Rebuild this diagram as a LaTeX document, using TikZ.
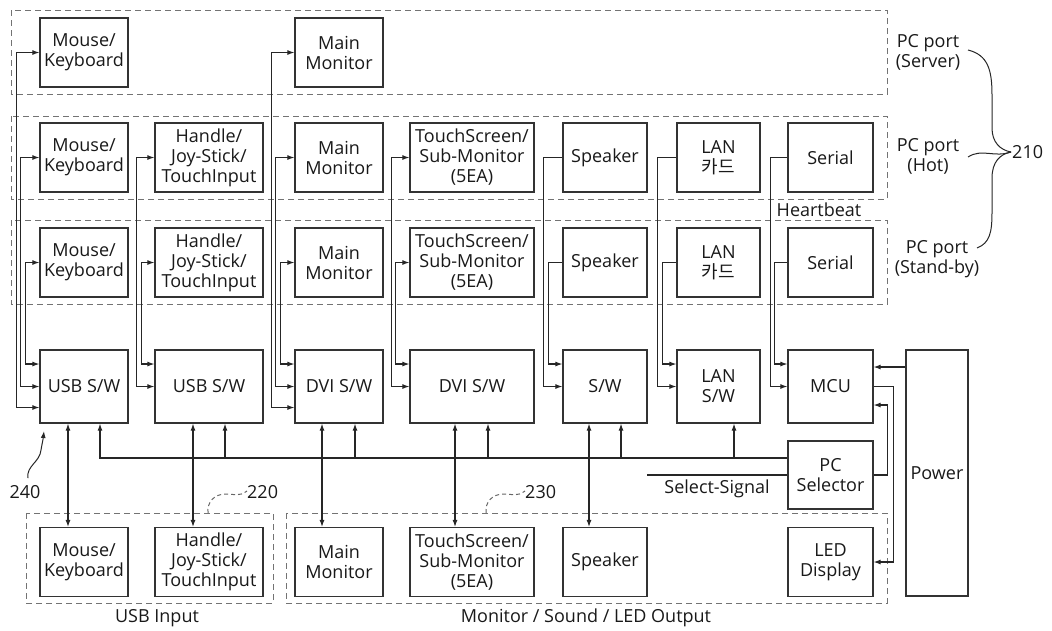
\documentclass[tikz,border=0pt]{standalone}
\usepackage{fontspec}
\setmainfont{Open Sans}
\newfontfamily\kr{Noto Sans CJK KR}
\usetikzlibrary{arrows.meta,calc}
\begin{document}
\begin{tikzpicture}[x=1pt,y=-1pt,
  font=\fontsize{18}{20}\selectfont,
  blk/.style={draw=black!80,line width=1.2pt,fill=white,align=center,inner sep=0pt,text=black!90},
  cA/.style={minimum width=88pt},
  cB/.style={minimum width=108pt},
  cD/.style={minimum width=124pt},
  cE/.style={minimum width=84pt},
  rh/.style={minimum height=69pt},
  sh/.style={minimum height=73pt},
  grp/.style={draw=black!55,line width=1pt,dash pattern=on 6pt off 4pt},
  wire/.style={draw=black!85,line width=1.1pt},
  arr/.style={wire,-{Latex[length=7pt,width=5pt]}},
  dbl/.style={wire,{Latex[length=7pt,width=5pt]}-{Latex[length=7pt,width=5pt]}},
  lbl/.style={align=center,inner sep=0pt,text=black!90},
  lead/.style={draw=black!60,line width=1pt,dash pattern=on 4pt off 3pt}]
\useasboundingbox (0,0) rectangle (1052,630);

% dashed groups
\draw[grp] (11,10) rectangle (887,94);
\draw[grp] (11,116) rectangle (887,199);
\draw[grp] (11,220) rectangle (887,304);
\draw[grp] (26,513) rectangle (273,603);
\draw[grp] (286,513) rectangle (887,603);

% server row
\node[blk,cA,rh] (sMK) at (84,52.5) {Mouse/\\Keyboard};
\node[blk,cA,rh] (sMM) at (339,52.5) {Main\\Monitor};
% hot row
\node[blk,cA,rh] (hMK) at (84,157.5) {Mouse/\\Keyboard};
\node[blk,cB,rh] (hHJ) at (209,157.5) {Handle/\\Joy-Stick/\\TouchInput};
\node[blk,cA,rh] (hMM) at (339,157.5) {Main\\Monitor};
\node[blk,cD,rh] (hTS) at (472,157.5) {TouchScreen/\\Sub-Monitor\\(5EA)};
\node[blk,cE,rh] (hSP) at (605,157.5) {Speaker};
\node[blk,cE,rh,minimum width=83pt] (hLAN) at (718.5,157.5) {LAN\\{\kr 카드}};
\node[blk,cE,rh,minimum width=85pt] (hSER) at (830.5,157.5) {Serial};
% stand-by row
\node[blk,cA,rh] (tMK) at (84,262.5) {Mouse/\\Keyboard};
\node[blk,cB,rh] (tHJ) at (209,262.5) {Handle/\\Joy-Stick/\\TouchInput};
\node[blk,cA,rh] (tMM) at (339,262.5) {Main\\Monitor};
\node[blk,cD,rh] (tTS) at (472,262.5) {TouchScreen/\\Sub-Monitor\\(5EA)};
\node[blk,cE,rh] (tSP) at (605,262.5) {Speaker};
\node[blk,cE,rh,minimum width=83pt] (tLAN) at (718.5,262.5) {LAN\\{\kr 카드}};
\node[blk,cE,rh,minimum width=85pt] (tSER) at (830.5,262.5) {Serial};
% switch row
\node[blk,cA,sh] (usb1) at (84,386.5) {USB S/W};
\node[blk,cB,sh] (usb2) at (209,386.5) {USB S/W};
\node[blk,cA,sh] (dvi1) at (339,386.5) {DVI S/W};
\node[blk,cD,sh] (dvi2) at (472,386.5) {DVI S/W};
\node[blk,cE,sh] (sw) at (605,386.5) {S/W};
\node[blk,cE,sh,minimum width=83pt] (lansw) at (718.5,386.5) {LAN\\S/W};
\node[blk,cE,sh,minimum width=85pt] (mcu) at (830.5,386.5) {MCU};
\node[blk,cE,minimum width=85pt,minimum height=68pt] (pcsel) at (830.5,475) {PC\\Selector};
\node[blk,minimum width=62pt,minimum height=246pt] (power) at (937,473) {Power};
% bottom row
\node[blk,cA,rh] (bMK) at (84,562) {Mouse/\\Keyboard};
\node[blk,cB,rh] (bHJ) at (209,562) {Handle/\\Joy-Stick/\\TouchInput};
\node[blk,cA,rh] (bMM) at (339,562) {Main\\Monitor};
\node[blk,cD,rh] (bTS) at (472,562) {TouchScreen/\\Sub-Monitor\\(5EA)};
\node[blk,cE,rh] (bSP) at (605,562) {Speaker};
\node[blk,cE,rh,minimum width=85pt] (led) at (830.5,562) {LED\\Display};

% column connectors: USB / DVI
\draw[dbl] (sMK.west) -- ++(-23,0) |- ($(usb1.west)+(0,21)$);
\draw[dbl] (hMK.west) -- ++(-18.5,0) |- (usb1.west);
\draw[dbl] (tMK.west) -- ++(-13.5,0) |- ($(usb1.west)+(0,-22.5)$);
\draw[dbl] (hHJ.west) -- ++(-18,0) |- (usb2.west);
\draw[dbl] (tHJ.west) -- ++(-13,0) |- ($(usb2.west)+(0,-22.5)$);
\draw[dbl] (sMM.west) -- ++(-23,0) |- ($(dvi1.west)+(0,21)$);
\draw[dbl] (hMM.west) -- ++(-18.5,0) |- (dvi1.west);
\draw[dbl] (tMM.west) -- ++(-14,0) |- ($(dvi1.west)+(0,-22.5)$);
\draw[dbl] (hTS.west) -- ++(-18,0) |- (dvi2.west);
\draw[dbl] (tTS.west) -- ++(-14,0) |- ($(dvi2.west)+(0,-22.5)$);
% speaker / LAN / serial
\draw[arr] (hSP.west) -- ++(-19,0) |- (sw.west);
\draw[arr] (tSP.west) -- ++(-14,0) |- ($(sw.west)+(0,-22.5)$);
\draw[arr] (hLAN.west) -- ++(-19,0) |- (lansw.west);
\draw[arr] (tLAN.west) -- ++(-14,0) |- ($(lansw.west)+(0,-22.5)$);
\draw[arr] (hSER.west) -- ++(-17,0) |- (mcu.west);
\draw[arr] (tSER.west) -- ++(-13,0) |- ($(mcu.west)+(0,-22.5)$);

% bottom bidirectional
\draw[dbl] ($(usb1.south)+(-16,0)$) -- ($(bMK.north)+(-16,0)$);
\draw[dbl] ($(usb2.south)+(-16,0)$) -- ($(bHJ.north)+(-16,0)$);
\draw[dbl] ($(dvi1.south)+(-17,0)$) -- ($(bMM.north)+(-17,0)$);
\draw[dbl] ($(dvi2.south)+(-17,0)$) -- ($(bTS.north)+(-17,0)$);
\draw[dbl] ($(sw.south)+(-16,0)$) -- ($(bSP.north)+(-16,0)$);

% select bus
\draw[arr] ($(pcsel.west)+(0,-17)$) -| ($(usb1.south)+(16,0)$);
\draw[arr] ($(usb2.south)+(16,35)$) -- ($(usb2.south)+(16,0)$);
\draw[arr] ($(dvi1.south)+(16,35)$) -- ($(dvi1.south)+(16,0)$);
\draw[arr] ($(dvi2.south)+(16,35)$) -- ($(dvi2.south)+(16,0)$);
\draw[arr] ($(sw.south)+(16,35)$) -- ($(sw.south)+(16,0)$);
\draw[arr] ($(lansw.south)+(15.5,35)$) -- ($(lansw.south)+(15.5,0)$);
\coordinate (selin) at (647,475);
\draw[wire] (selin) -- (pcsel.west);
\node[lbl] (seltxt) at (717,489) {Select-Signal};

% MCU / power
\coordinate (mcuP) at ($(mcu.east)+(0,-19.5)$);
\draw[arr] (power.west |- mcuP) -- (mcuP);
\draw[arr] (mcu.east) -- ++(20,0) |- (led.east);
\draw[arr] (pcsel.east) -- ++(14,0) |- ($(mcu.east)+(0,18.5)$);

% labels
\node[lbl] (hb) at (819,210) {Heartbeat};
\node[lbl] (pSrv) at (928,52) {PC port\\(Server)};
\node[lbl] (pHot) at (928,156) {PC port\\(Hot)};
\node[lbl] (pStb) at (937,259) {PC port\\(Stand-by)};
\node[lbl,anchor=west] (n210) at (1012,152) {210};
\draw[wire,line width=1pt] (968,50) .. controls (988,55) and (992,70) .. (992,95) -- (992,128) .. controls (992,142) and (1000,150) .. (1011,152);
\draw[wire,line width=1pt] (968,157) .. controls (982,148) and (994,158) .. (1011,152);
\draw[wire,line width=1pt] (977,248) .. controls (990,243) and (992,232) .. (992,212) -- (992,178) .. controls (992,162) and (1000,154) .. (1011,152);

\node[lbl] (n240) at (25,492) {240};
\draw[wire,line width=1pt,-{Latex[length=7pt,width=5pt]}] (28,478) .. controls (26,466) and (40,462) .. (41,450) .. controls (42,444) and (43,440) .. (44,431);
\node[lbl,anchor=west] (n220) at (247,492) {220};
\draw[lead] (208,513) .. controls (207,502) and (214,494) .. (226,494) .. controls (234,494) and (239,497) .. (247,491);
\node[lbl,anchor=west] (n230) at (525,492) {230};
\draw[lead] (486,513) .. controls (485,502) and (492,494) .. (504,494) .. controls (512,494) and (517,497) .. (525,491);

\node[lbl] (usbin) at (157,618) {USB Input};
\node[lbl] (monout) at (586,618) {Monitor / Sound / LED Output};
\end{tikzpicture}
\end{document}
